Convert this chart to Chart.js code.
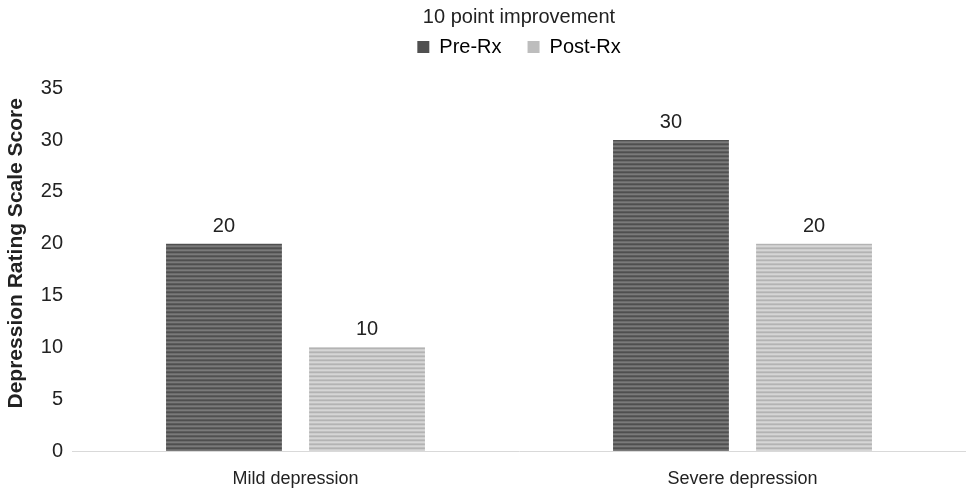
<!DOCTYPE html>
<html>
<head>
<meta charset="utf-8">
<script src="https://cdn.jsdelivr.net/npm/chart.js@4.4.1/dist/chart.umd.min.js"></script>
<style>
  html, body { margin: 0; padding: 0; background: #fff; }
  #wrap { width: 966px; height: 490px; }
</style>
</head>
<body>
<div id="wrap"><canvas id="chart" width="966" height="490"></canvas></div>
<script>
const categories = ['Mild depression', 'Severe depression'];
const preRx = [20, 30];
const postRx = [10, 20];
const seriesNames = ['Pre-Rx', 'Post-Rx'];
const yTitle = 'Depression Rating Scale Score';

// striped fill like the original print
function stripes(rows) {
  const c = document.createElement('canvas');
  c.width = 4; c.height = rows.length;
  const g = c.getContext('2d');
  rows.forEach((col, i) => { g.fillStyle = col; g.fillRect(0, i, 4, 1); });
  return g.createPattern(c, 'repeat');
}
const preFill = stripes(['#4f4f4f', '#6c6c6c', '#7a7a7a', '#5c5c5c']);
const postFill = stripes(['#b3b3b3', '#cdcdcd', '#d6d6d6', '#c0c0c0']);

const barLabels = {
  id: 'barLabels',
  afterDatasetsDraw(chart) {
    const ctx = chart.ctx;
    ctx.save();
    ctx.font = '20px "Liberation Sans", Arial, sans-serif';
    ctx.fillStyle = '#222';
    ctx.textAlign = 'center';
    ctx.textBaseline = 'alphabetic';
    chart.data.datasets.forEach((ds, i) => {
      chart.getDatasetMeta(i).data.forEach((bar, j) => {
        ctx.fillText(ds.data[j], bar.x, bar.y - 12);
      });
    });
    ctx.restore();
  }
};

// axis title sits a bit above the middle of the plot in the original
const sideTitle = {
  id: 'sideTitle',
  afterDraw(chart) {
    const ctx = chart.ctx;
    const a = chart.chartArea;
    ctx.save();
    ctx.translate(16, a.top + (a.bottom - a.top) * 0.455);
    ctx.rotate(-Math.PI / 2);
    ctx.font = 'bold 21px "Liberation Sans", Arial, sans-serif';
    ctx.fillStyle = '#222';
    ctx.textAlign = 'center';
    ctx.textBaseline = 'middle';
    ctx.fillText(yTitle, 0, 0);
    ctx.restore();
  }
};

Chart.defaults.font.family = '"Liberation Sans", Arial, sans-serif';
Chart.defaults.color = '#222';

new Chart(document.getElementById('chart'), {
  type: 'bar',
  data: {
    labels: categories,
    datasets: [
      { label: seriesNames[0], data: preRx, backgroundColor: preFill },
      { label: seriesNames[1], data: postRx, backgroundColor: postFill }
    ]
  },
  options: {
    responsive: false,
    animation: false,
    categoryPercentage: 0.64,
    barPercentage: 0.81,
    layout: { padding: 0 },
    plugins: {
      title: {
        display: true,
        fullSize: false,
        text: '10 point improvement',
        font: { size: 20, weight: 'normal' },
        color: '#222',
        padding: { top: 5, bottom: -18 }
      },
      // empty box below the legend, only to leave room above the plot
      subtitle: {
        display: true,
        fullSize: false,
        weight: 500,
        text: ' ',
        font: { size: 1 },
        padding: { top: 0, bottom: 20 }
      },
      legend: {
        position: 'top',
        fullSize: false,
        labels: {
          boxWidth: 12, boxHeight: 12,
          font: { size: 20 },
          color: '#222',
          padding: 26,
          generateLabels: chart => seriesNames.map((n, i) => ({
            text: n,
            fillStyle: i === 0 ? '#505050' : '#bdbdbd',
            strokeStyle: 'transparent',
            lineWidth: 0,
            datasetIndex: i
          }))
        }
      },
      tooltip: { enabled: false }
    },
    scales: {
      x: {
        grid: { display: false, drawTicks: false },
        border: { display: true, color: '#d9d9d9', width: 1 },
        ticks: { font: { size: 18 }, color: '#222', padding: 17 },
        afterFit: s => { s.height = 39; }
      },
      y: {
        min: 0, max: 35,
        ticks: { stepSize: 5, font: { size: 20 }, color: '#222', padding: 9 },
        grid: { display: false, drawTicks: false },
        border: { display: false },
        afterFit: s => { s.width = 72; }
      }
    }
  },
  plugins: [barLabels, sideTitle]
});
</script>
</body>
</html>
